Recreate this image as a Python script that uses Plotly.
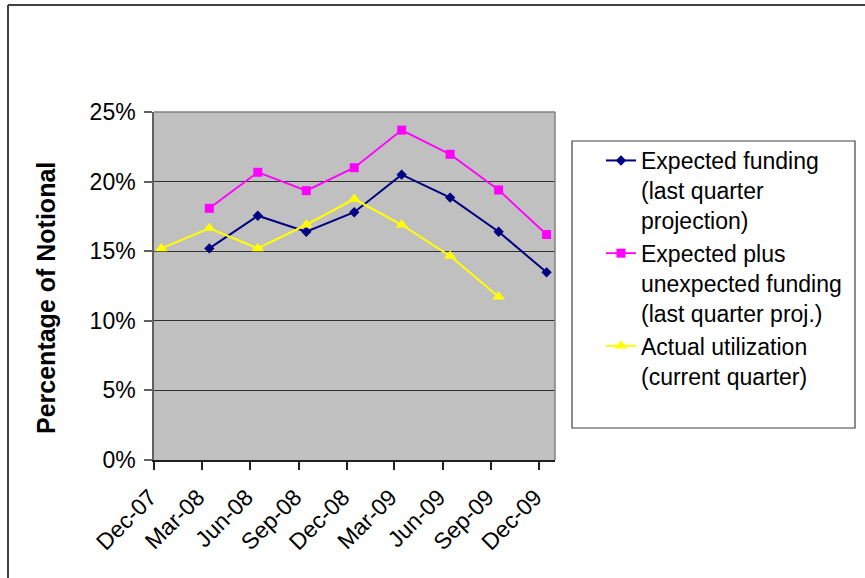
import plotly.graph_objects as go

# Quarter labels and the dates they sit on
quarters = ["Dec-07", "Mar-08", "Jun-08", "Sep-08", "Dec-08",
            "Mar-09", "Jun-09", "Sep-09", "Dec-09"]
tick_dates = ["2007-12-01", "2008-03-01", "2008-06-01", "2008-09-01", "2008-12-01",
              "2009-03-01", "2009-06-01", "2009-09-01", "2009-12-01"]
point_dates = ["2007-12-15", "2008-03-15", "2008-06-15", "2008-09-15", "2008-12-15",
               "2009-03-15", "2009-06-15", "2009-09-15", "2009-12-15"]

# Percentage of notional per quarter
expected_funding = [None, 15.2, 17.55, 16.4, 17.8, 20.5, 18.85, 16.4, 13.48]
expected_plus_unexpected = [None, 18.08, 20.67, 19.35, 21.0, 23.7, 21.96, 19.4, 16.2]
actual_utilization = [15.2, 16.65, 15.2, 16.9, 18.75, 16.9, 14.65, 11.73, None]

y_ticks = [0, 5, 10, 15, 20, 25]

FONT = "Liberation Sans, Arial, sans-serif"

fig = go.Figure()
fig.add_trace(go.Scatter(
    x=point_dates, y=expected_funding, mode="lines+markers",
    name="Expected funding<br>(last quarter<br>projection)",
    line=dict(color="#000080", width=2),
    marker=dict(symbol="diamond", size=8, color="#000080"),
))
fig.add_trace(go.Scatter(
    x=point_dates, y=expected_plus_unexpected, mode="lines+markers",
    name="Expected plus<br>unexpected funding<br>(last quarter proj.)",
    line=dict(color="#FF00FF", width=1.8),
    marker=dict(symbol="square", size=9, color="#FF00FF"),
))
fig.add_trace(go.Scatter(
    x=point_dates, y=actual_utilization, mode="lines+markers",
    name="Actual utilization<br>(current quarter)",
    line=dict(color="#FFFF00", width=2),
    marker=dict(symbol="triangle-up", size=11, color="#FFFF00"),
))

L, R, T, B = 154, 310, 112, 118
W, H = 865, 578
pw, ph = W - L - R, H - T - B


def px(x):
    return (x - L) / pw


def py(y):
    return (H - B - y) / ph


shapes = [
    # plot area top and right edges
    dict(type="line", xref="paper", yref="paper", x0=0, x1=1, y0=1, y1=1,
         line=dict(color="#808080", width=1.5), layer="above"),
    dict(type="line", xref="paper", yref="paper", x0=1, x1=1, y0=0, y1=1,
         line=dict(color="#808080", width=1.5), layer="above"),
    # chart area frame
    dict(type="line", xref="paper", yref="paper", x0=px(8), x1=px(875), y0=py(5), y1=py(5),
         line=dict(color="#404040", width=2)),
    dict(type="line", xref="paper", yref="paper", x0=px(8), x1=px(8), y0=py(5), y1=py(590),
         line=dict(color="#404040", width=2)),
    # legend frame
    dict(type="rect", xref="paper", yref="paper", x0=px(572), x1=px(855), y0=py(141), y1=py(428),
         line=dict(color="#404040", width=1.2), fillcolor="rgba(0,0,0,0)"),
]

fig.update_layout(
    width=W, height=H,
    margin=dict(l=L, r=R, t=T, b=B, pad=0),
    paper_bgcolor="white",
    plot_bgcolor="#C0C0C0",
    font=dict(family=FONT, size=23, color="black"),
    showlegend=True,
    legend=dict(
        x=px(601), y=py(139), xanchor="left", yanchor="top",
        valign="top",
        bgcolor="rgba(0,0,0,0)", borderwidth=0,
        font=dict(family=FONT, size=23, color="black"),
        tracegroupgap=12,
    ),
    shapes=shapes,
    annotations=[dict(
        text="<b>Percentage of Notional</b>", textangle=-90,
        xref="paper", yref="paper", x=px(46), y=py(298),
        xanchor="center", yanchor="middle", showarrow=False,
        font=dict(family=FONT, size=25, color="black"),
    )],
)

fig.update_xaxes(
    type="date", range=["2007-12-01", "2009-12-31"],
    tickmode="array", tickvals=tick_dates, ticktext=quarters,
    tickangle=-45, ticks="outside", ticklen=8, tickwidth=1.5, tickcolor="#202020",
    showline=True, linecolor="#202020", linewidth=1.5,
    showgrid=False, zeroline=False,
    ticklabelshift=-4, ticklabelstandoff=5,
    tickfont=dict(family=FONT, size=23, color="black"),
)
fig.update_yaxes(
    range=[0, 25], tickmode="array", tickvals=y_ticks,
    ticktext=[f"{v}%" for v in y_ticks],
    ticks="outside", ticklen=8, tickwidth=1.5, tickcolor="#606060",
    showline=True, linecolor="#606060", linewidth=1.5,
    showgrid=True, gridcolor="#303030", gridwidth=1.2, zeroline=False,
    ticklabelstandoff=4,
    tickfont=dict(family=FONT, size=23, color="black"),
)

fig.write_html("out.html")
